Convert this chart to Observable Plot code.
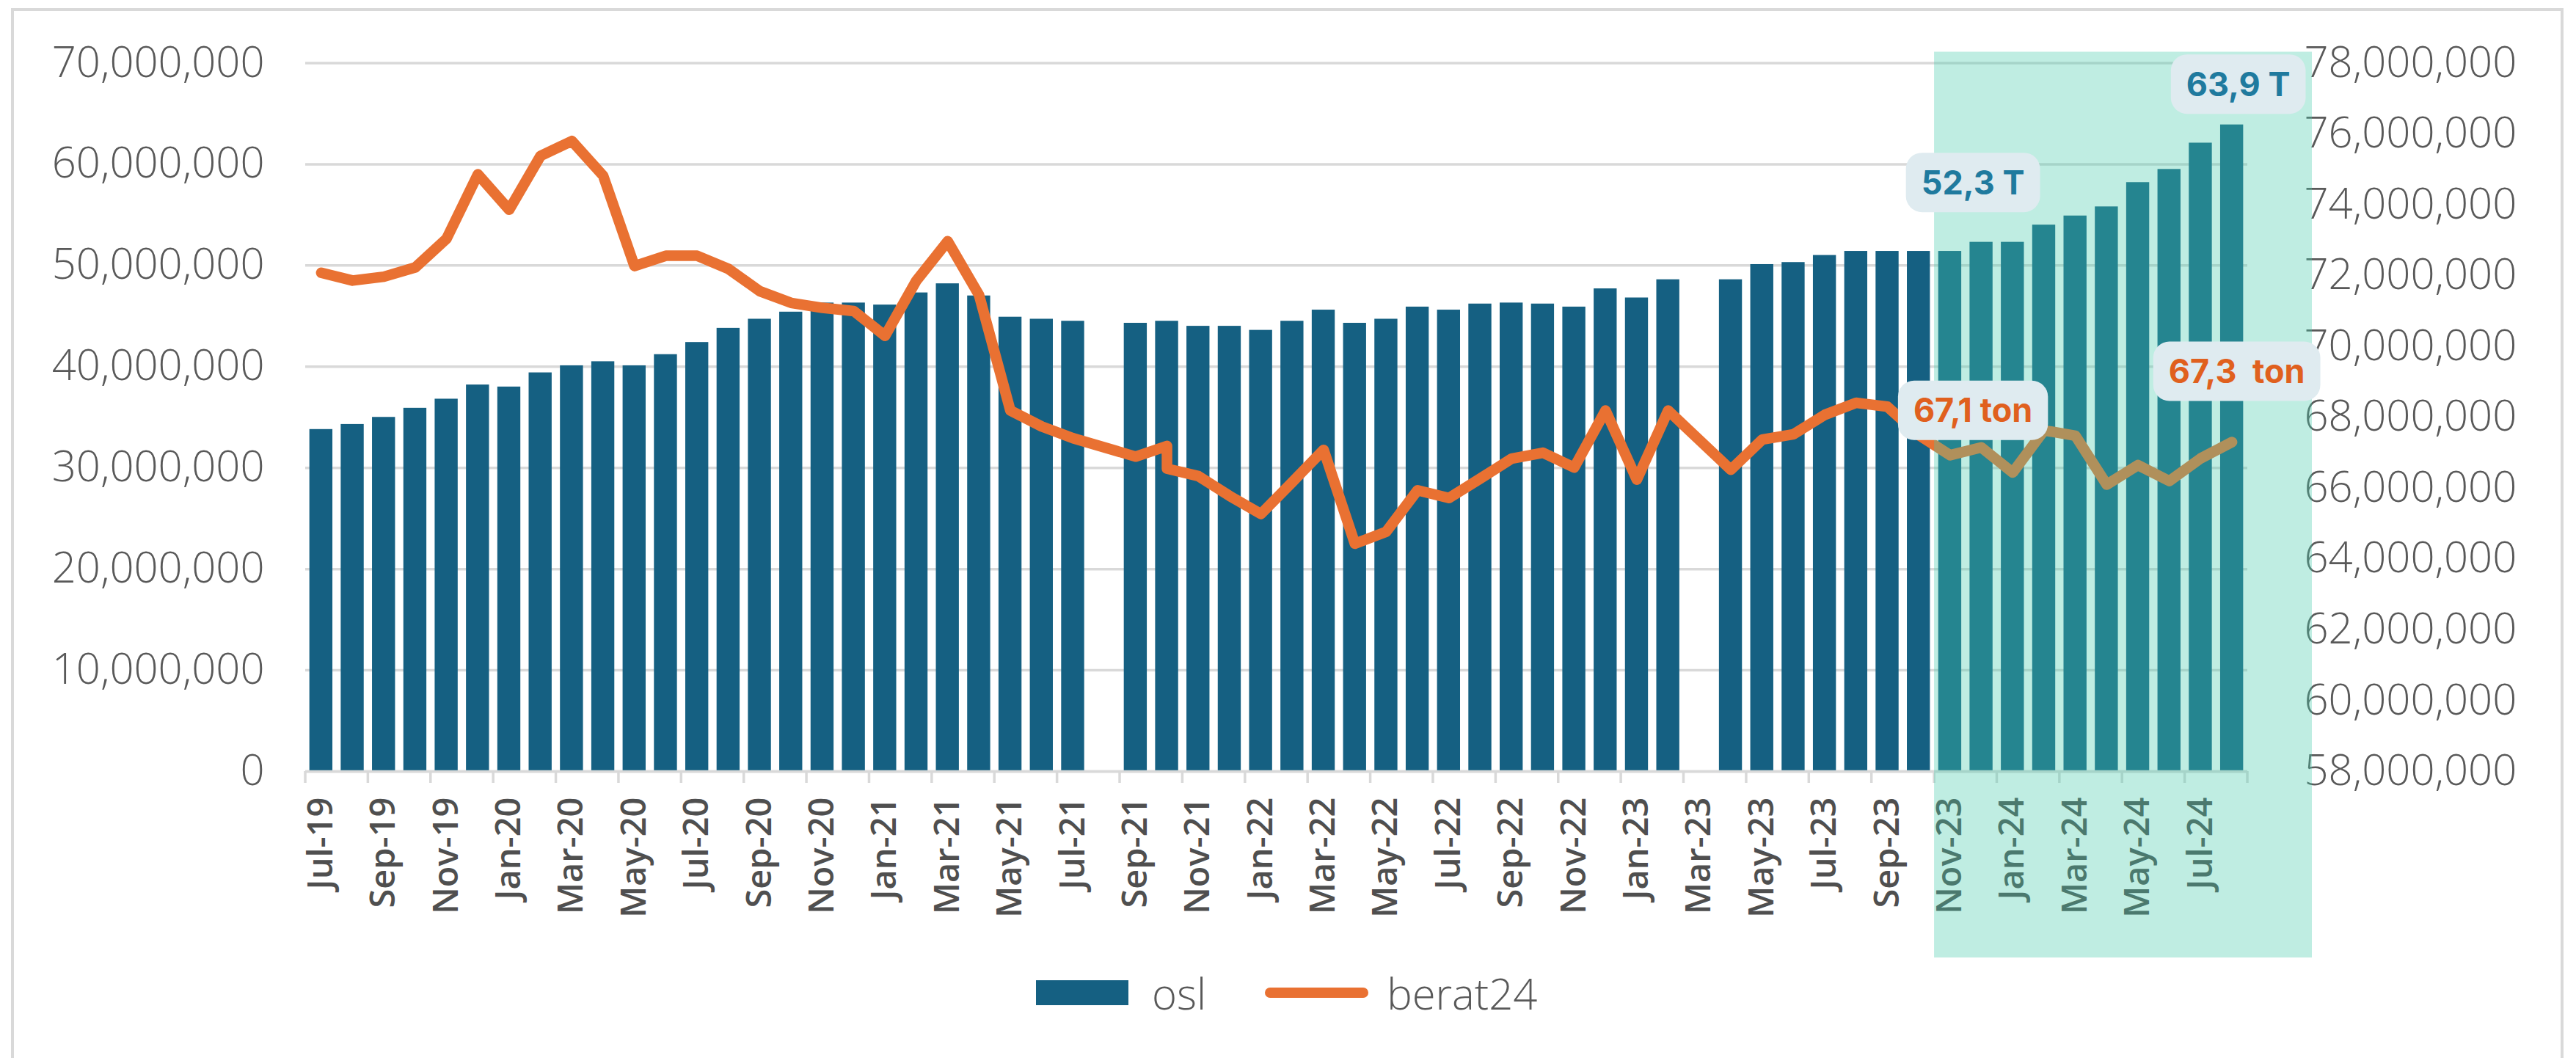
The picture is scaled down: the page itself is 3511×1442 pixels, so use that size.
<!DOCTYPE html>
<html>
<head>
<meta charset="utf-8">
<script src="https://cdn.jsdelivr.net/npm/d3@7"></script>
<script src="https://cdn.jsdelivr.net/npm/@observablehq/plot@0.6"></script>
<style>
  html, body { margin: 0; padding: 0; background: #ffffff; }
  #wrap { position: relative; width: 3511px; height: 1442px; overflow: hidden; background: #ffffff; }
  #chart { position: absolute; left: 0; top: 0; }
  #border { position: absolute; left: 15px; top: 11px; width: 3479px; height: 1460px; border: 4px solid #D9D9D9; box-sizing: border-box; pointer-events: none; }
  #legend { position: absolute; top: 1323px; left: 1412px; height: 60px; display: flex; align-items: center;
            font-family: 'Open Sans', sans-serif; font-weight: 300; font-size: 58px; color: #595959; white-space: nowrap; }
  #legend .sw { display: inline-block; width: 126px; height: 34px; background: #156082; margin-right: 32px; }
  #legend .ln { display: inline-block; width: 141px; height: 14px; border-radius: 7px; background: #E97132; margin-left: 80px; margin-right: 25px; }
</style>
</head>
<body>
<div id="wrap">
  <div id="chart"></div>
  <div id="legend"><span class="sw"></span><span>osl</span><span class="ln"></span><span>berat24</span></div>
  <div id="border"></div>
</div>
<script>
// ---------- data ----------
const months = [
  "Jul-19","Aug-19","Sep-19","Oct-19","Nov-19","Dec-19",
  "Jan-20","Feb-20","Mar-20","Apr-20","May-20","Jun-20","Jul-20","Aug-20","Sep-20","Oct-20","Nov-20","Dec-20",
  "Jan-21","Feb-21","Mar-21","Apr-21","May-21","Jun-21","Jul-21","Aug-21","Sep-21","Oct-21","Nov-21","Dec-21",
  "Jan-22","Feb-22","Mar-22","Apr-22","May-22","Jun-22","Jul-22","Aug-22","Sep-22","Oct-22","Nov-22","Dec-22",
  "Jan-23","Feb-23","Mar-23","Apr-23","May-23","Jun-23","Jul-23","Aug-23","Sep-23","Oct-23","Nov-23","Dec-23",
  "Jan-24","Feb-24","Mar-24","Apr-24","May-24","Jun-24","Jul-24","Aug-24"
];
const tickMonths = months.filter((m, i) => i % 2 === 0);

// osl, in millions (left axis)
const osl = [
  33.8, 34.3, 35.0, 35.9, 36.8, 38.2,
  38.0, 39.4, 40.1, 40.5, 40.1, 41.2, 42.4, 43.8, 44.7, 45.4, 46.3, 46.3,
  46.1, 47.3, 48.2, 47.0, 44.9, 44.7, 44.5, null, 44.3, 44.5, 44.0, 44.0,
  43.6, 44.5, 45.6, 44.3, 44.7, 45.9, 45.6, 46.2, 46.3, 46.2, 45.9, 47.7,
  46.8, 48.6, null, 48.6, 50.1, 50.3, 51.0, 51.4, 51.4, 51.4, 51.4, 52.3,
  52.3, 54.0, 54.9, 55.8, 58.2, 59.5, 62.1, 63.9
];

// berat24, in millions (right axis)
const berat24 = [
  72.08, 71.86, 71.97, 72.23, 73.04, 74.86,
  73.86, 75.38, 75.80, 74.82, 72.27, 72.56, 72.56, 72.19, 71.56, 71.23, 71.09, 71.00,
  70.30, 71.86, 72.97, 71.45, 68.19, 67.74, 67.41, null, 66.89, 67.19, 66.34, 65.78,
  65.27, 66.17, 67.08, 64.43, 64.77, 65.94, 65.72, 66.27, 66.83, 67.00, 66.58, 68.19,
  66.24, 68.19, null, 66.52, 67.37, 67.52, 68.07, 68.41, 68.30, 67.50, 66.93, 67.15,
  66.44, 67.63, 67.48, 66.10, 66.65, 66.20, 66.84, 67.30
];
// second reading drawn at the same month (vertical step in the line)
const berat24Step = [{ month: "Oct-21", value: 66.55 }];

const leftTicks = [0, 10, 20, 30, 40, 50, 60, 70];          // millions
const rightTicks = [58, 60, 62, 64, 66, 68, 70, 72, 74, 76, 78]; // millions

const highlight = { from: "Nov-23", to: "Aug-24" };

const annotations = [
  { month: "Dec-23", series: "osl", label: "52,3 T" },
  { month: "Aug-24", series: "osl", label: "63,9 T" },
  { month: "Dec-23", series: "berat24", label: "67,1 ton" },
  { month: "Aug-24", series: "berat24", label: "67,3  ton" }
];

// ---------- helpers / styling ----------
const M = 1e6;
const RMIN = 58, RMAX = 78, LMAX = 70;
const toLeft = r => (r - RMIN) * (LMAX / (RMAX - RMIN)) * M;      // right value (M) -> left units
const fromLeft = v => RMIN * M + v * ((RMAX - RMIN) / LMAX);
const fmt = d3.format(",");

const annStyle = [
  { dx: -11, dy: -81, color: "#1F7A9E" },
  { dx: 9, dy: -55, color: "#1F7A9E" },
  { dx: -11, dy: -50, color: "#E0601E" },
  { dx: 7, dy: -96, color: "#E0601E" }
];

const barData = months.map((m, i) => ({ month: m, v: osl[i] })).filter(d => d.v != null);
const lineData = [];
months.forEach((m, i) => {
  if (berat24[i] == null) return;
  lineData.push({ month: m, v: berat24[i] });
  berat24Step.filter(s => s.month === m).forEach(s => lineData.push({ month: m, v: s.value }));
});

const SVGNS = "http://www.w3.org/2000/svg";
function el(doc, name, attrs) {
  const e = doc.createElementNS(SVGNS, name);
  for (const k in attrs) e.setAttribute(k, attrs[k]);
  return e;
}

// tick marks on category boundaries, every 2 categories
function boundaryTicks(index, scales, values, dims, context) {
  const { x, y } = scales;
  const bw = x.bandwidth(), step = x.step();
  const gap = (step - bw) / 2;
  const g = el(context.document, "g", { stroke: "#D9D9D9", "stroke-width": 3.5 });
  const y0 = y(0);
  const xs = tickMonths.map(m => x(m) - gap);
  xs.push(x(months[months.length - 1]) + bw + gap);
  xs.forEach(px => g.appendChild(el(context.document, "line", { x1: px, x2: px, y1: y0, y2: y0 + 16 })));
  return g;
}

// translucent highlight box
function highlightBox(index, scales, values, dims, context) {
  const { x, y } = scales;
  const bw = x.bandwidth(), step = x.step();
  const gap = (step - bw) / 2;
  const x1 = x(highlight.from) - gap;
  const x2 = x(highlight.to) + bw + gap + 88;
  const y1 = y(LMAX * M) - 15;
  const y2 = y(0) + 254;
  return el(context.document, "rect", { x: x1, y: y1, width: x2 - x1, height: y2 - y1, fill: "#46CBAB", "fill-opacity": 0.345 });
}

// value call-outs
function callouts(index, scales, values, dims, context) {
  const { x, y } = scales;
  const bw = x.bandwidth();
  const g = el(context.document, "g", {});
  annotations.forEach((a, k) => {
    const i = months.indexOf(a.month);
    const val = a.series === "osl" ? osl[i] * M : toLeft(berat24[i]);
    const cx = x(a.month) + bw / 2 + annStyle[k].dx;
    const cy = y(val) + annStyle[k].dy;
    const gg = el(context.document, "g", { class: "ann", "data-cx": cx, "data-cy": cy });
    const r = el(context.document, "rect", { x: cx - 90, y: cy - 40.5, width: 180, height: 81, rx: 22, ry: 22, fill: "#DFEBF0" });
    const t = el(context.document, "text", {
      x: cx, y: cy, dy: "0.36em", "text-anchor": "middle",
      fill: annStyle[k].color, "font-family": "Inter, 'Open Sans', sans-serif", "font-weight": 700, "font-size": 45,
      style: "white-space: pre"
    });
    t.textContent = a.label;
    gg.appendChild(r); gg.appendChild(t);
    g.appendChild(gg);
  });
  return g;
}

const chart = Plot.plot({
  width: 3511,
  height: 1320,
  marginLeft: 416,
  marginRight: 448,
  marginTop: 85.5,
  marginBottom: 269,
  style: { fontFamily: "'Open Sans', sans-serif", background: "transparent", overflow: "visible" },
  x: { domain: months, paddingInner: 0.265, paddingOuter: 0.1325, align: 0.5, label: null },
  y: { domain: [0, LMAX * M], label: null },
  marks: [
    Plot.gridY({ ticks: leftTicks.map(t => t * M), stroke: "#D9D9D9", strokeOpacity: 1, strokeWidth: 3.5 }),
    Plot.barY(barData, { x: "month", y: d => d.v * M, fill: "#156082" }),
    Plot.ruleY([0], { stroke: "#D9D9D9", strokeWidth: 3.5 }),
    boundaryTicks,
    Plot.line(lineData, { x: "month", y: d => toLeft(d.v), stroke: "#E97132", strokeWidth: 14.5, strokeLinejoin: "round", strokeLinecap: "round" }),
    Plot.axisX({ ticks: tickMonths, tickRotate: -90, tickSize: 0, tickPadding: 35, fontSize: 47, fontWeight: 600, fill: "#4F4F4F", label: null }),
    Plot.axisY({ anchor: "left", ticks: leftTicks.map(t => t * M), tickFormat: fmt, tickSize: 0, tickPadding: 56, fontSize: 58, fontWeight: 300, fill: "#595959", label: null }),
    Plot.axisY({ anchor: "right", ticks: rightTicks.map(r => toLeft(r)), tickFormat: d => fmt(Math.round(fromLeft(d) / 1000) * 1000), tickSize: 0, tickPadding: 77, fontSize: 58, fontWeight: 300, fill: "#595959", label: null }),
    highlightBox,
    callouts
  ]
});
document.getElementById("chart").appendChild(chart);

function fitBoxes() {
  chart.querySelectorAll("g.ann").forEach(gg => {
    const t = gg.querySelector("text"), r = gg.querySelector("rect");
    const bb = t.getBBox();
    const cx = +gg.getAttribute("data-cx");
    const w = bb.width + 42;
    r.setAttribute("x", cx - w / 2);
    r.setAttribute("width", w);
  });
}
fitBoxes();
if (document.fonts && document.fonts.ready) document.fonts.ready.then(fitBoxes);
</script>
</body>
</html>
